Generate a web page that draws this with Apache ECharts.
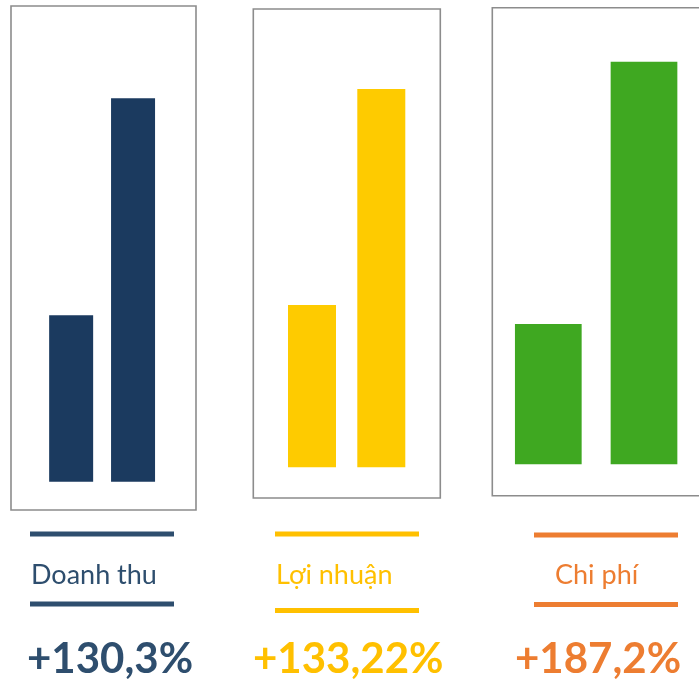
<!DOCTYPE html>
<html>
<head>
<meta charset="utf-8">
<script src="https://cdn.jsdelivr.net/npm/echarts@6/dist/echarts.min.js"></script>
<style>
  html, body { margin: 0; padding: 0; background: #fff; }
  #main { width: 699px; height: 697px; }
</style>
</head>
<body>
<div id="main"></div>
<script>
// data
const periods = ['Kỳ trước', 'Kỳ này'];
const revenue = [100, 230.3];
const profit = [100, 233.22];
const cost = [100, 287.2];
const names = ['Doanh thu', 'Lợi nhuận', 'Chi phí'];
const growth = ['+130,3%', '+133,22%', '+187,2%'];

const barColors = ['#1b3a5f', '#fecb00', '#3fa821'];
const textColors = ['#2e4e6e', '#ffc000', '#ed7d31'];

// grid per panel (pixels)
const grids = [
    { left: 40.2, width: 123.8, top: 98.3, height: 383.4 },
    { left: 277.35, width: 138.6, top: 89, height: 378.3 },
    { left: 500.45, width: 191.4, top: 61.7, height: 402.6 }
];
const barWidths = [44, 48, 66.7];
const seriesData = [revenue, profit, cost];

// box / caption layout
const boxes = [
    { x: 11, y: 6, w: 185, h: 504 },
    { x: 253.3, y: 9, w: 187, h: 489 },
    { x: 492.3, y: 7.7, w: 220, h: 488 }
];
const captionX = [31, 276, 555];
const lineX = [[30, 174], [275, 419], [534, 678]];
const lineTopY = [534, 534, 535];
const lineBotY = [604, 610.5, 604.5];
const growthX = [27, 253, 515];

const chart = echarts.init(document.getElementById('main'));

let xAxes = [], yAxes = [], series = [], graphic = [];
for (let i = 0; i < 3; i++) {
    xAxes.push({
        type: 'category', gridIndex: i, data: periods,
        show: false
    });
    yAxes.push({
        type: 'value', gridIndex: i, min: 0, max: Math.max(...seriesData[i]),
        show: false, splitLine: { show: false }
    });
    series.push({
        type: 'bar', xAxisIndex: i, yAxisIndex: i,
        data: seriesData[i], barWidth: barWidths[i],
        itemStyle: { color: barColors[i] },
        silent: true
    });

    const b = boxes[i];
    graphic.push({
        type: 'rect', shape: { x: b.x, y: b.y, width: b.w, height: b.h },
        style: { fill: 'none', stroke: '#8c8c8c', lineWidth: 1.6 }, z: -1
    });
    graphic.push({
        type: 'line', shape: { x1: lineX[i][0], y1: lineTopY[i], x2: lineX[i][1], y2: lineTopY[i] },
        style: { stroke: textColors[i], lineWidth: 5 }
    });
    graphic.push({
        type: 'line', shape: { x1: lineX[i][0], y1: lineBotY[i], x2: lineX[i][1], y2: lineBotY[i] },
        style: { stroke: textColors[i], lineWidth: 5 }
    });
    graphic.push({
        type: 'text', x: captionX[i], y: 575,
        style: {
            text: names[i], fill: textColors[i],
            font: '27px Lato', textVerticalAlign: 'middle', textAlign: 'left'
        }
    });
    graphic.push({
        type: 'text', x: growthX[i], y: 659,
        style: {
            text: growth[i], fill: textColors[i],
            font: 'bold 42px Lato', textVerticalAlign: 'middle', textAlign: 'left'
        }
    });
}

chart.setOption({
    animation: false,
    grid: grids,
    xAxis: xAxes,
    yAxis: yAxes,
    series: series,
    graphic: graphic
});
</script>
</body>
</html>
